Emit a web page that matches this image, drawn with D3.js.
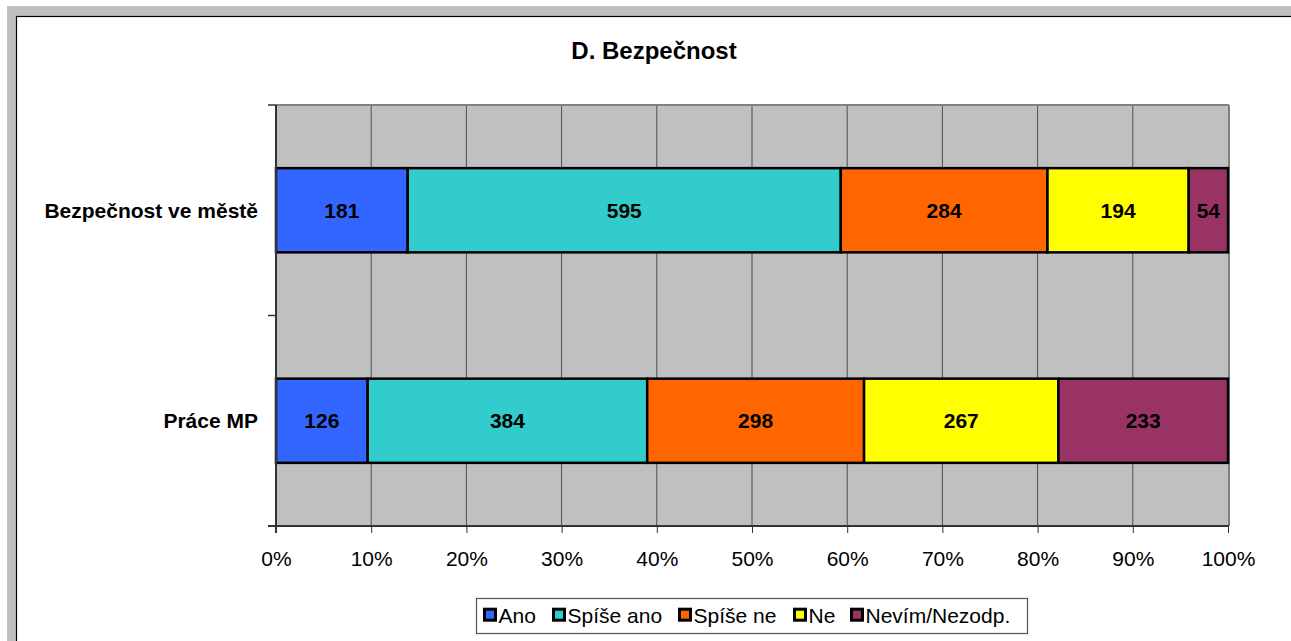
<!DOCTYPE html>
<html><head><meta charset="utf-8">
<script src="https://cdn.jsdelivr.net/npm/d3@7"></script>
<style>
body{margin:0;background:#fff;}
svg{display:block;font-family:Arial,"Liberation Sans",sans-serif;}
</style></head><body>
<svg id="c" width="1291" height="641"></svg>
<script>
const categories = ["Bezpečnost ve městě", "Práce MP"];
const seriesNames = ["Ano", "Spíše ano", "Spíše ne", "Ne", "Nevím/Nezodp."];
const seriesColors = ["#3366FF", "#33CCCC", "#FF6600", "#FFFF00", "#993366"];
const valuesAno = [181, 126];
const valuesSpiseAno = [595, 384];
const valuesSpiseNe = [284, 298];
const valuesNe = [194, 267];
const valuesNevim = [54, 233];
const tickValues = [0, 0.1, 0.2, 0.3, 0.4, 0.5, 0.6, 0.7, 0.8, 0.9, 1];
const title = "D. Bezpečnost";

const series = [valuesAno, valuesSpiseAno, valuesSpiseNe, valuesNe, valuesNevim];
const svg = d3.select("#c");
const FS = 21;

// outer frame
svg.append("rect").attr("x",0).attr("y",0).attr("width",1291).attr("height",641).attr("fill","#fff");
svg.append("rect").attr("x",7).attr("y",6).attr("width",1284).attr("height",635).attr("fill","#c0c0c0");
svg.append("rect").attr("x",16.5).attr("y",16.5).attr("width",1290).attr("height",640).attr("fill","#fff").attr("stroke","#000").attr("stroke-width",1.2);

const L=276, R=1228, T=105, B=526;
const x = d3.scaleLinear().domain([0,1]).range([L,R]);
const y = d3.scaleBand().domain(categories).range([T,B]).paddingInner(0.6).paddingOuter(0.3);

// plot background
svg.append("rect").attr("x",L).attr("y",T).attr("width",R-L).attr("height",B-T).attr("fill","#c0c0c0");
// gridlines
svg.append("g").selectAll("line").data(tickValues.slice(1,-1)).join("line")
  .attr("x1",d=>x(d)).attr("x2",d=>x(d)).attr("y1",T).attr("y2",B)
  .attr("stroke","#4d4d4d").attr("stroke-width",1);
// plot border top/right
svg.append("line").attr("x1",L).attr("x2",R+1).attr("y1",T).attr("y2",T).attr("stroke","#808080").attr("stroke-width",2);
svg.append("line").attr("x1",R+1).attr("x2",R+1).attr("y1",T).attr("y2",B).attr("stroke","#808080").attr("stroke-width",2);

// bars
const totals = categories.map((c,i)=>d3.sum(series,s=>s[i]));
const stackData = [];
categories.forEach((c,i)=>{
  let cum=0;
  series.forEach((s,j)=>{
    const v=s[i]/totals[i];
    stackData.push({cat:c, j, v:s[i], x0:cum, x1:cum+v});
    cum+=v;
  });
});
const g = svg.append("g");
g.selectAll("rect").data(stackData).join("rect")
  .attr("x",d=>x(d.x0)).attr("width",d=>x(d.x1)-x(d.x0))
  .attr("y",d=>y(d.cat)).attr("height",y.bandwidth())
  .attr("fill",d=>seriesColors[d.j]).attr("stroke","#000").attr("stroke-width",2.5);
g.selectAll("text").data(stackData).join("text")
  .attr("x",d=>(x(d.x0)+x(d.x1))/2).attr("y",d=>y(d.cat)+y.bandwidth()/2)
  .attr("dy","0.36em").attr("text-anchor","middle")
  .attr("font-size",FS).attr("font-weight","bold").attr("fill","#000")
  .text(d=>d.v);

// x axis
const xAxis = d3.axisBottom(x).tickValues(tickValues).tickFormat(d3.format(".0%")).tickSize(7).tickSizeOuter(0);
const xg = svg.append("g").attr("transform",`translate(0,${B})`).call(xAxis);
xg.select(".domain").attr("stroke","#333").attr("stroke-width",2).attr("d",`M${L-8},0H${R+1}`);
xg.selectAll(".tick line").attr("stroke","#333");
xg.selectAll(".tick text").attr("font-size",FS).attr("font-family","Arial,'Liberation Sans',sans-serif").attr("fill","#000").attr("y",32).attr("dy","0.36em");

// y axis
const yg = svg.append("g").attr("transform",`translate(${L},0)`);
yg.append("line").attr("x1",0).attr("x2",0).attr("y1",T).attr("y2",B+7).attr("stroke","#333").attr("stroke-width",2);
const ybounds=[T,(T+B)/2,B];
yg.selectAll("line.t").data(ybounds).join("line").attr("class","t")
  .attr("x1",-8).attr("x2",0).attr("y1",d=>d).attr("y2",d=>d).attr("stroke","#333").attr("stroke-width",1.5);
yg.selectAll("text").data(categories).join("text")
  .attr("x",-18).attr("y",d=>y(d)+y.bandwidth()/2).attr("dy","0.36em")
  .attr("text-anchor","end").attr("font-size",FS).attr("font-weight","bold").text(d=>d);

// title
svg.append("text").attr("x",654).attr("y",50).attr("dy","0.36em").attr("text-anchor","middle")
  .attr("font-size",24).attr("font-weight","bold").text(title);

// legend
const lg = svg.append("g");
lg.append("rect").attr("x",476.5).attr("y",598.5).attr("width",551).attr("height",35).attr("fill","#fff").attr("stroke","#555").attr("stroke-width",1.2);
const legX = [483, 552, 678, 793, 850];
seriesNames.forEach((n,i)=>{
  lg.append("rect").attr("x",legX[i]+1.5).attr("y",609.2).attr("width",11).attr("height",11)
    .attr("fill",seriesColors[i]).attr("stroke","#000").attr("stroke-width",3);
  lg.append("text").attr("x",legX[i]+15.5).attr("y",615).attr("dy","0.36em").attr("font-size",FS).text(n);
});
</script>
</body></html>
